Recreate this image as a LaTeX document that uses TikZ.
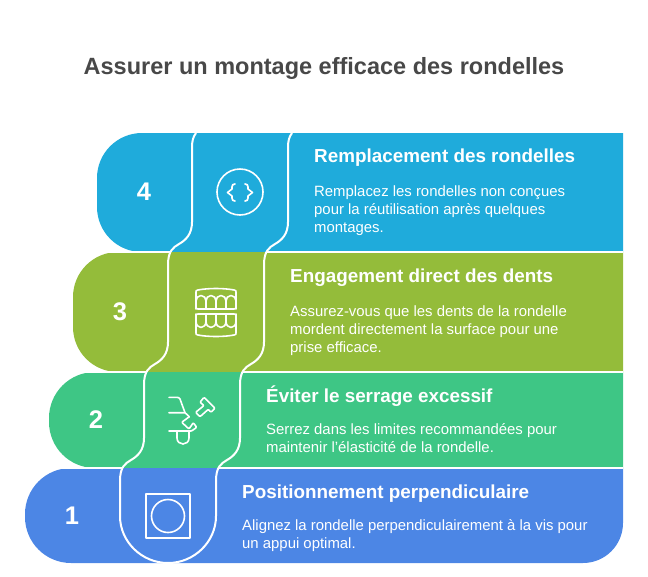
\documentclass[tikz,border=0pt]{standalone}
\usepackage{fontspec}
\setmainfont{Liberation Sans}
\definecolor{bleu}{HTML}{4C86E5}
\definecolor{vert}{HTML}{3EC685}
\definecolor{olive}{HTML}{94BC3A}
\definecolor{ciel}{HTML}{1FABDB}
\definecolor{encre}{HTML}{484848}
\tikzset{
    chiffre/.style={text=white, font=\bfseries\fontsize{25.5}{26}\selectfont},
    entete/.style={text=white, anchor=base west, inner sep=0pt, font=\bfseries\fontsize{18.85}{19}\selectfont},
    corps/.style={text=white, anchor=north west, inner sep=0pt, align=left, font=\fontsize{14.9}{18}\selectfont},
    trait/.style={white, line width=1.6pt, line cap=round, line join=round}
}
\begin{document}
\begin{tikzpicture}[x=1pt, y=-1pt]
    \useasboundingbox (0,0) rectangle (648,576);

    \node[text=encre, font=\bfseries\fontsize{23.5}{24}\selectfont] (titre) at (324,68) {Assurer un montage efficace des rondelles};

    % bands
    \fill[ciel] (623,133) [rounded corners=45pt] -- (97,133) -- (97,252) [sharp corners] -- (623,252) -- cycle;
    \fill[olive] (623,252) [rounded corners=45pt] -- (73,252) -- (73,372) [sharp corners] -- (623,372) -- cycle;
    \fill[vert] (623,372) [rounded corners=46pt] -- (49,372) -- (49,468) [sharp corners] -- (623,468) -- cycle;
    \fill[bleu] (623,468) [rounded corners=46pt] -- (25,468) -- (25,563) [rounded corners=40pt] -- (623,563) [sharp corners] -- cycle;

    % gaps
    \foreach \y/\xa/\xb in {252/171/267, 372/147/243, 468/123/219} {
        \draw[white, line width=2pt] (0,\y) -- (\xa,\y);
        \draw[white, line width=2pt] (\xb,\y) -- (623,\y);
    }

    % the two winding lines
    \foreach \o/\c/\e in {0/142/168, 96/98/72}
        \draw[white, line width=2pt, shift={(\o pt,0pt)}]
            (196,133) .. controls (193,137) and (192,141) .. (192,148) -- (192,222)
            .. controls (192,234) and (186,240) .. (179,244) .. controls (173,247.5) and (168,251) .. (168,265) -- (168,342)
            .. controls (168,354) and (162,360) .. (155,364) .. controls (149,367.5) and (144,371) .. (144,385) -- (144,438)
            .. controls (144,450) and (138,456) .. (131,460) .. controls (125,463.5) and (120,467) .. (120,481) -- (120,516)
            .. controls (120,542) and (\c,563) .. (\e,563);

    % numbers
    \node[chiffre] (n4) at (144,192) {4};
    \node[chiffre] (n3) at (120,312) {3};
    \node[chiffre] (n2) at (96,420) {2};
    \node[chiffre] (n1) at (72,516) {1};

    % icon 4
    \draw[trait] (240,192) circle (23pt);
    \foreach \s in {1,-1}
        \draw[trait, xshift=240pt, xscale=\s]
            (-5,184) .. controls (-7,184) and (-8,185) .. (-8,187) -- (-8,189) -- (-12.5,192.5) -- (-8,196) -- (-8,198) .. controls (-8,200) and (-7,201) .. (-5,201);

    % icon 3
    \draw[trait] (198,290) .. controls (208,288) and (224,288) .. (234,290) .. controls (236,290) and (236,291) .. (236,292) -- (236,307) .. controls (236,308) and (236,309) .. (234,309) -- (198,309) .. controls (196,309) and (196,308) .. (196,307) -- (196,292) .. controls (196,291) and (196,290) .. (198,290) -- cycle;
    \draw[trait] (198,335) .. controls (208,337) and (224,337) .. (234,335) .. controls (236,335) and (236,334) .. (236,333) -- (236,316) .. controls (236,315) and (236,314) .. (234,314) -- (198,314) .. controls (196,314) and (196,315) .. (196,316) -- (196,333) .. controls (196,334) and (196,335) .. (198,335) -- cycle;
    \foreach \x in {196,206,216,226} {
        \draw[trait] (\x,309) -- (\x,301) .. controls (\x,298) and ({\x+2},295.5) .. ({\x+5},295.5) .. controls ({\x+8},295.5) and ({\x+10},298) .. ({\x+10},301) -- ({\x+10},309);
        \draw[trait] (\x,314) -- (\x,321) .. controls (\x,325) and ({\x+2},327.5) .. ({\x+5},327.5) .. controls ({\x+8},327.5) and ({\x+10},325) .. ({\x+10},321) -- ({\x+10},314);
    }

    % icon 2
    \draw[trait] (169,397.3) -- (177,397.3) .. controls (178.5,397.3) and (179.5,398) .. (180,399) -- (185,412.7);
    \draw[trait] (169,412.7) -- (185,412.7) -- (189.3,416.7);
    \draw[trait, rounded corners=1pt] (189.3,416.7) -- (181.7,422.3) -- (189,429) -- (193.3,422.7) -- (196.7,427.3) -- (191.7,431) -- (169,431);
    \draw[trait] (177,431) -- (177,438) .. controls (177,446) and (189,446) .. (189,438) -- (189,431);
    \draw[trait, rounded corners=1pt] (200,402.3) -- (204,397.3) -- (215,408.3) -- (211,412.3) -- (208.3,409.3) -- (200,416.7) -- (195.7,412.3) -- (204,405.5) -- cycle;

    % icon 1
    \draw[trait] (146,494) rectangle (190,538);
    \draw[trait] (168,516) circle (16.5pt);

    % texts
    \node[entete] (h4) at (314,162.5) {Remplacement des rondelles};
    \node[corps] (t4) at (314,185.5) {Remplacez les rondelles non conçues\\pour la réutilisation après quelques\\montages.};
    \node[entete] (h3) at (290,282.5) {Engagement direct des dents};
    \node[corps] (t3) at (290,305.5) {Assurez-vous que les dents de la rondelle\\mordent directement la surface pour une\\prise efficace.};
    \node[entete] (h2) at (266,402.5) {Éviter le serrage excessif};
    \node[corps] (t2) at (266,423.5) {Serrez dans les limites recommandées pour\\maintenir l'élasticité de la rondelle.};
    \node[entete] (h1) at (242,498.5) {Positionnement perpendiculaire};
    \node[corps] (t1) at (242,519.5) {Alignez la rondelle perpendiculairement à la vis pour\\un appui optimal.};
\end{tikzpicture}
\end{document}
